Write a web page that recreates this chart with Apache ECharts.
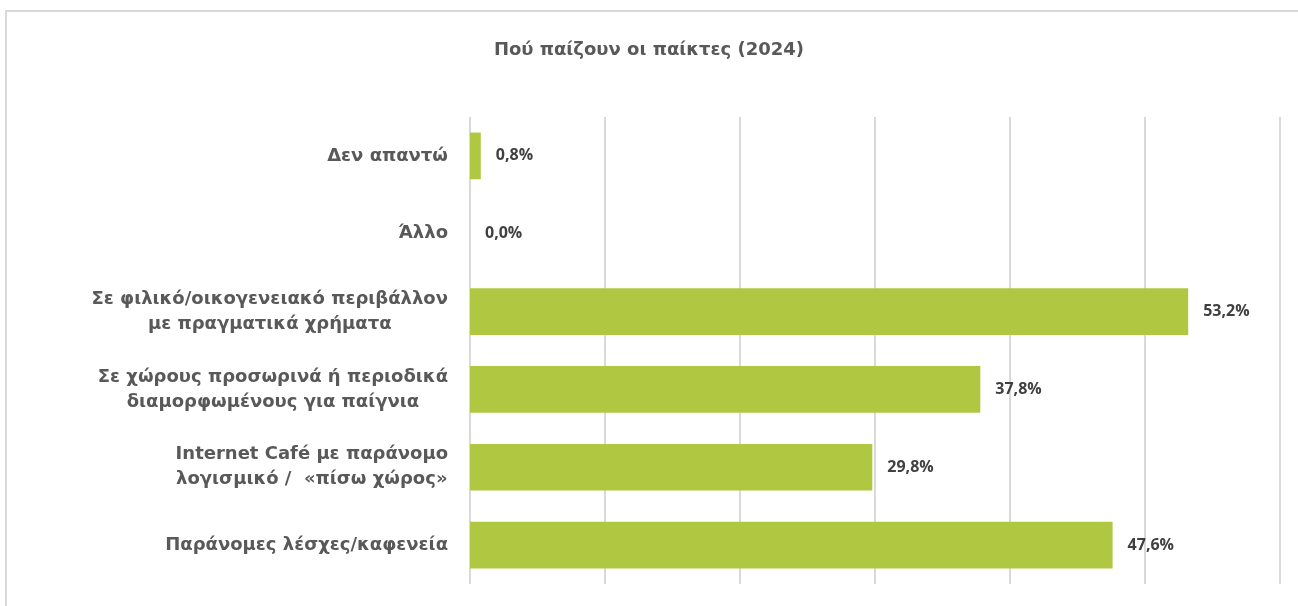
<!DOCTYPE html>
<html style="height: 100%; width: 100%;">
<head>
    <meta charset="utf-8">
    <title>Πού παίζουν οι παίκτες (2024)</title>
    <script src="https://cdn.jsdelivr.net/npm/echarts@6/dist/echarts.min.js"></script>
    <style>
        body, html {
            margin: 0;
            padding: 0;
            width: 100%;
            height: 100%;
            background: #fff;
        }
        #main {
            width: 1298px;
            height: 606px;
        }
    </style>
</head>
<body>
<div id="main"></div>
<script type="text/javascript">
    // categories, top to bottom
    var categories = [
        'Δεν απαντώ',
        'Άλλο',
        'Σε φιλικό/οικογενειακό περιβάλλον\nμε πραγματικά χρήματα',
        'Σε χώρους προσωρινά ή περιοδικά\nδιαμορφωμένους για παίγνια',
        'Internet Café με παράνομο\nλογισμικό /  «πίσω χώρος»',
        'Παράνομες λέσχες/καφενεία'
    ];
    // percentages
    var values = [0.8, 0.0, 53.2, 37.8, 29.8, 47.6];

    var chart = echarts.init(document.getElementById('main'));

    var option = {
        animation: false,
        backgroundColor: '#fff',
        title: {
            text: 'Πού παίζουν οι παίκτες (2024)',
            left: 'center',
            top: 36,
            textStyle: {
                fontFamily: 'DejaVu Sans',
                fontWeight: 'bold',
                fontSize: 18,
                color: '#595959'
            }
        },
        graphic: [{
            type: 'rect',
            shape: { x: 6, y: 11, width: 1400, height: 700 },
            style: { fill: 'none', stroke: '#d9d9d9', lineWidth: 2 },
            silent: true
        }],
        grid: {
            left: 470,
            right: 18,
            top: 117,
            bottom: 22
        },
        xAxis: {
            type: 'value',
            min: 0,
            max: 60,
            interval: 10,
            axisLabel: { show: false },
            axisLine: { show: false },
            axisTick: { show: false },
            splitLine: { lineStyle: { color: '#d9d9d9', width: 2 } }
        },
        yAxis: {
            type: 'category',
            inverse: true,
            data: categories,
            axisLine: { show: false },
            axisTick: { show: false },
            axisLabel: {
                margin: 22,
                formatter: function (v) {
                    return v.split('\n').map(function (s) { return '{c|' + s + '}'; }).join('\n');
                },
                rich: {
                    c: {
                        align: 'center',
                        fontFamily: 'DejaVu Sans',
                        fontWeight: 'bold',
                        fontSize: 18,
                        lineHeight: 25,
                        color: '#595959'
                    }
                }
            }
        },
        series: [{
            type: 'bar',
            data: values,
            barWidth: '60%',
            itemStyle: { color: '#b0c742' },
            label: {
                show: true,
                position: 'right',
                distance: 15,
                fontFamily: 'Open Sans',
                fontWeight: 'bold',
                fontSize: 16,
                color: '#404040',
                formatter: function (p) {
                    return p.value.toFixed(1).replace('.', ',') + '%';
                }
            }
        }]
    };

    chart.setOption(option);
</script>
</body>
</html>
